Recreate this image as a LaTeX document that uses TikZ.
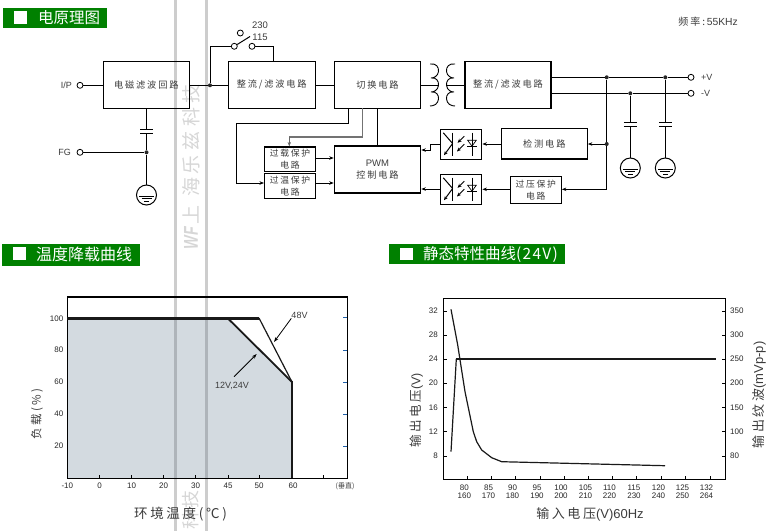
\documentclass[tikz,border=0pt]{standalone}
\usepackage{fontspec}
\usepackage{graphicx}
\usetikzlibrary{arrows.meta}
\setmainfont{Liberation Sans}
\newfontfamily\cjk{Noto Sans CJK SC}
\newfontfamily\cjks[LetterSpace=20]{Noto Sans CJK SC}
\newfontfamily\cjkt[LetterSpace=8]{Noto Sans CJK SC}
\definecolor{hdr}{HTML}{008000}
\definecolor{txt}{HTML}{3C3C3C}
\definecolor{wm}{HTML}{CDCDCD}
\definecolor{wmtx}{HTML}{D6D6D6}
\definecolor{fillp}{HTML}{D3DAE0}
\definecolor{wmdk}{HTML}{AEB4BA}
\definecolor{tickb}{HTML}{1F5FA8}
\tikzset{
  wire/.style={draw=black,line width=1pt},
  tipwire/.style={wire,-{Stealth[length=4.5pt,width=3.5pt]}},
  block/.style={draw=black,line width=1.1pt,minimum height=47pt,inner sep=0pt,text=txt,font=\cjks\fontsize{9.2}{11}\selectfont,align=center},
  smallblock/.style={draw=black,line width=1.1pt,minimum width=51pt,inner sep=0pt,text=txt,font=\cjks\fontsize{8.8}{11.5}\selectfont,align=center},
  optobox/.style={draw=black,line width=1.1pt,minimum width=41pt,minimum height=30.5pt,inner sep=0pt},
  term/.style={circle,draw=black,line width=0.8pt,fill=white,minimum size=6pt,inner sep=0pt},
  dotj/.style={circle,fill=black!85,minimum size=4pt,inner sep=0pt},
  gnd/.style={circle,draw=black,line width=1pt,minimum size=20pt,inner sep=0pt},
  lab/.style={text=txt,font=\fontsize{9}{10}\selectfont,inner sep=0pt},
  hdrbox/.style={fill=hdr,draw=none,minimum height=20pt,inner sep=0pt},
  hdrtx/.style={text=white,anchor=west,inner sep=0pt,font=\cjk},
  tl/.style={text=black!85,font=\fontsize{8}{8}\selectfont,inner sep=0pt},
  axl/.style={text=txt,inner sep=0pt},
  frame/.style={draw=black,line width=1.1pt},
  tk/.style={draw=black,line width=0.8pt},
  wmark/.style={text=wmtx,rotate=90,inner sep=0pt,font=\cjk\fontsize{19}{20}\selectfont}
}
\newcommand{\gndmarks}[1]{
  \draw[line width=1pt] ([xshift=-7.5pt,yshift=-1pt]#1.center)--([xshift=7.5pt,yshift=-1pt]#1.center);
  \draw[line width=1pt] ([xshift=-5pt,yshift=-3.5pt]#1.center)--([xshift=5pt,yshift=-3.5pt]#1.center);
  \draw[line width=1pt] ([xshift=-2.5pt,yshift=-6pt]#1.center)--([xshift=2.5pt,yshift=-6pt]#1.center);
}
\newcommand{\optosym}[1]{
 \begin{scope}[shift={(#1.north west)},line width=1pt]
  \draw (3,4.3)--(12.3,15);
  \draw[-{Stealth[length=4pt,width=3.5pt]}] (12.3,15)--(3.7,26.7);
  \draw (12.3,4)--(12.3,27);
  \draw[-{Stealth[length=4pt,width=3.5pt]}] (24,7.7)--(17.3,14.3);
  \draw[-{Stealth[length=4pt,width=3.5pt]}] (24,15.7)--(16.7,23);
  \draw (31.7,4)--(31.7,27);
  \draw[line width=0.7pt] (27.3,11.7)--(36,11.7)--(31.7,17.7)--cycle;
  \draw (27,17.7)--(37,17.7);
 \end{scope}
}
\newcommand{\capsym}[2]{
  \draw[line width=1.1pt] (#1-6.5,#2)--(#1+6.5,#2);
  \draw[line width=1.1pt] (#1-6.5,#2+4)--(#1+6.5,#2+4);
}
\begin{document}
\begin{tikzpicture}[x=1pt,y=-1pt]
\useasboundingbox (0,0) rectangle (775,531);
% watermark
\fill[wm] (174.3,0) rectangle (177,531);
\fill[wm] (205,0) rectangle (207.7,531);
\foreach \yy/\ch in {94/技,117/科,141/兹,165/乐,187/海,215/上}
  \node[wmark] (w\yy) at (191,\yy) {\ch};
\node[wmark,font=\cjk\fontsize{18}{18}\selectfont] (wb1) at (191,499) {技};
\node[wmark,font=\cjk\fontsize{18}{18}\selectfont] (wb2) at (191,520.5) {科};
\node[wmark,font=\bfseries\itshape\fontsize{20}{20}\selectfont] (wf) at (191,238) {\scalebox{0.72}[1]{WF}};
% headers
\node[hdrbox,minimum width=104pt,anchor=north west] (h1) at (3,8) {};
\fill[white] (14,11) rectangle (27,24);
\node[hdrtx,font=\cjk\fontsize{15.5}{16}\selectfont] (h1t) at (38,18) {电原理图};
\node[hdrbox,minimum width=138pt,minimum height=22pt,anchor=north west] (h2) at (2,244) {};
\fill[white] (12.7,246.7) rectangle (26,260);
\node[hdrtx,font=\cjk\fontsize{16}{16}\selectfont] (h2t) at (36,254.5) {温度降载曲线};
\node[hdrbox,minimum width=176pt,anchor=north west] (h3) at (389,244) {};
\fill[white] (400,247.7) rectangle (413.3,260);
\node[hdrtx,font=\cjk\fontsize{15.5}{16}\selectfont] (h3t) at (423,254.5) {静态特性曲线{\cjkt (24V)}};
\node[lab,anchor=east,font=\fontsize{10.3}{11}\selectfont] (freq) at (738,21.5) {{\cjks\fontsize{10}{11}\selectfont 频率:}\,55KHz};
% blocks
\node[block,minimum width=86.5pt] (emi) at (146.3,84.8) {电磁滤波回路};
\node[block,minimum width=87pt] (rc1) at (271.7,84.8) {整流/滤波电路};
\node[block,minimum width=86.5pt] (sw) at (377.5,84.8) {切换电路};
\node[block,minimum width=86pt] (rc2) at (508,84.8) {整流/滤波电路};
\node[block,minimum width=86.5pt,font=\fontsize{9.5}{12}\selectfont] (pwm) at (377.5,169.5) {PWM\\{\cjks\fontsize{9.2}{11}\selectfont 控制电路}};
\node[smallblock,minimum height=24.5pt] (olp) at (290,159.2) {过载保护\\电路};
\node[smallblock,minimum height=25pt] (otp) at (290,186) {过温保护\\电路};
\node[optobox,anchor=north west] (op1) at (440.3,128.5) {};
\node[optobox,anchor=north west] (op2) at (440.3,173.5) {};
\node[block,minimum width=86pt,minimum height=30.5pt] (det) at (544.3,143.7) {检测电路};
\node[smallblock,minimum height=27pt] (ovp) at (535.8,190) {过压保护\\电路};
\optosym{op1}\optosym{op2}
% input side
\node[term] (ip) at (80,85.3) {};
\node[lab,anchor=east] (iplab) at (72,85.3) {I/P};
\node[term] (fg) at (80,152.3) {};
\node[lab,anchor=east] (fglab) at (71,152.3) {FG};
\node[dotj] (jfg) at (146.5,152.3) {};
\node[gnd] (g1) at (146.5,195) {};
\gndmarks{g1}
\coordinate (emib) at (146.5,108.3);
\coordinate (c1a) at (146.5,129.5);
\coordinate (c1b) at (146.5,133.5);
\draw[wire] (ip) -- (emi.west |- ip);
\draw[wire] (fg) -- (jfg);
\draw[wire] (emib) -- (c1a) (c1b) -- (jfg) -- (g1);
\capsym{146.5}{129.5}
% switch
\node[dotj] (j1) at (210,85.3) {};
\node[term] (s1) at (234.3,46.3) {};
\node[term] (s2) at (252,46.3) {};
\node[term] (s3) at (240.3,33) {};
\node[lab,font=\fontsize{9.5}{10}\selectfont] (l230) at (260,25) {230};
\node[lab,font=\fontsize{9.5}{10}\selectfont] (l115) at (260,37) {115};
\coordinate (swc1) at (210,46.3);
\coordinate (swc2) at (273.3,46.3);
\coordinate (swc3) at (250,36.5);
\draw[wire] (emi.east |- j1) -- (j1) -- (rc1.west |- j1);
\draw[wire] (j1) -- (swc1) -- (s1);
\draw[wire] (s1) -- (swc3);
\draw[wire] (s2) -- (swc2) -- (swc2 |- rc1.north);
\draw[wire] (rc1.east |- j1) -- (sw.west |- j1);
% transformer
\coordinate (tl) at (438.5,85.3);
\coordinate (tr) at (447,85.3);
\draw[wire] (sw.east |- tl) -- (tl);
\draw[wire] (tr) -- (rc2.west |- tr);
\draw[line width=0.9pt] (430,64) .. controls (436,63) and (439,67) .. (438.5,71.5) .. controls (438,76) and (434,78) .. (431,78) .. controls (436,77) and (439,81) .. (438.5,85.3) .. controls (438,90) and (434,92) .. (431,92) .. controls (436,91) and (439,95) .. (438.5,99) .. controls (438,104) and (434,106) .. (430,106);
\draw[line width=0.9pt] (455,64) .. controls (449,63) and (446,67) .. (446.5,71.5) .. controls (447,76) and (451,78) .. (454,78) .. controls (449,77) and (446,81) .. (446.5,85.3) .. controls (447,90) and (451,92) .. (454,92) .. controls (449,91) and (446,95) .. (446.5,99) .. controls (447,104) and (451,106) .. (455,106);
% output side
\node[term] (vp) at (691,77.3) {};
\node[term] (vn) at (691,93.3) {};
\node[lab,anchor=west] (vpl) at (701,77.3) {+V};
\node[lab,anchor=west] (vnl) at (701,93.3) {-V};
\node[dotj] (jp1) at (606.7,77.3) {};
\node[dotj] (jp2) at (665.3,77.3) {};
\node[dotj] (jn1) at (630.3,93.3) {};
\node[dotj] (jd) at (606.7,144) {};
\coordinate (ovc) at (606.7,189.3);
\draw[wire] (rc2.east |- vp) -- (jp1) -- (jp2) -- (vp);
\draw[wire] (rc2.east |- vn) -- (jn1) -- (vn);
\draw[wire] (jp1) -- (jd) -- (ovc);
\draw[tipwire] (ovc) -- (ovp.east |- ovc);
\draw[tipwire] (jd) -- (det.east |- jd);
\draw[tipwire] (det.west |- jd) -- (op1.east |- jd);
\draw[tipwire] (ovp.west |- ovc) -- (op2.east |- ovc);
\node[gnd] (g2) at (630.3,168) {};
\node[gnd] (g3) at (665.3,168) {};
\gndmarks{g2}\gndmarks{g3}
\draw[wire] (jn1) -- (630.3,122.5) (630.3,126.5) -- (g2);
\draw[wire] (jp2) -- (665.3,122.5) (665.3,126.5) -- (g3);
\capsym{630.3}{122.5}\capsym{665.3}{122.5}
% feedback
\coordinate (fa) at (348.7,123.3);
\coordinate (fb) at (236.3,123.3);
\coordinate (fc) at (236.3,183);
\draw[wire] (348.7,108.3) -- (fa) -- (fb) -- (fc);
\draw[tipwire] (fc) -- (otp.west |- fc);
\coordinate (ga) at (362.3,136.7);
\coordinate (gb) at (289.3,136.7);
\draw[draw=black!55,line width=1.6pt] (362.3,108.3) -- (ga) -- (gb);
\draw[draw=black!60,line width=1pt,-{Stealth[length=4.5pt,width=3.5pt]}] (gb) -- (gb |- olp.north);
\draw[wire] (377.7,108.3) -- (pwm.north -| 377.7,0);
\coordinate (oa) at (315.5,158);
\coordinate (ob) at (315.5,183);
\draw[tipwire] (oa) -- (pwm.west |- oa);
\draw[tipwire] (ob) -- (pwm.west |- ob);
\coordinate (p1) at (430.7,144.3);
\coordinate (p2) at (430.7,150);
\draw[wire] (op1.west |- p1) -- (p1) -- (p2);
\draw[tipwire] (p2) -- (pwm.east |- p2);
\coordinate (p3) at (440.3,189);
\draw[tipwire] (p3) -- (pwm.east |- p3);
% ---------- plot 1
\fill[fillp] (67.3,317.7) -- (228,318) -- (292,382) -- (292,478.3) -- (67.3,478.3) -- cycle;
\fill[wmdk] (174.3,317) rectangle (177,478.3);
\fill[wmdk] (205,317) rectangle (207.7,478.3);
\draw[frame] (67.3,297) rectangle (347.3,478.3);
\foreach \xx in {99.5,131.5,163.5,195.5,228,259,292,323}
  \draw[tk] (\xx,478.3) -- (\xx,474.5);
\foreach \yy in {317.7,350,382,414,446}
  {\draw[draw=tickb,line width=0.8pt] (343,\yy) -- (347.3,\yy);}
\foreach \xx/\t in {67.3/-10,99.5/0,131.5/10,163.5/20,195.5/30,228/45,259/50,293/60}
  \node[tl] (xl\t) at (\xx,486) {\t};
\foreach \yy/\t in {318.5/100,350/80,382/60,414/40,446/20}
  \node[tl,anchor=east] (yl\t) at (63.5,\yy) {\t};
\node[text=txt,inner sep=0pt,font=\cjk\fontsize{7}{7}\selectfont] (vert) at (345,486) {(垂直)};
\draw[line width=3pt,black!90] (67.3,318) -- (259,318);
\draw[line width=1.8pt,black!90] (228,318.5) -- (292,382);
\draw[line width=1.2pt,black!90] (259,318) -- (292,382);
\draw[line width=2.4pt,black!90] (292,381) -- (292,478.3);
\node[lab] (l48) at (299.5,315) {48V};
\node[lab] (l12) at (232,386) {12V,24V};
\draw[line width=0.8pt,-{Stealth[length=5pt,width=3.5pt]}] (l48.south west) -- (274,342);
\draw[line width=0.8pt,-{Stealth[length=5pt,width=3.5pt]}] (234,376.7) -- (256.7,354);
\node[axl,rotate=90,font=\cjks\fontsize{11.5}{12}\selectfont] (py) at (37,414) {负载(\%)};
\node[axl,font=\cjks\fontsize{13.5}{14}\selectfont] (px) at (180.5,514) {环境温度(℃)};
% ---------- plot 2
\draw[frame] (443.3,298.3) rectangle (725.3,479.3);
\foreach \xx in {467.7,491.7,515.7,540,564.3,588.3,612.3,636.7,661,685.7,710}
  \draw[tk] (\xx,479.3) -- (\xx,475.5);
\foreach \yy/\a/\b in {311/32/350,335/28/300,359/24/250,383/20/200,407.5/16/150,431.5/12/100,456/8/80}{
  \draw[tk] (443.3,\yy) -- (447,\yy);
  \draw[tk] (725.3,\yy) -- (721.5,\yy);
  \node[tl,anchor=east] (la\a) at (438,\yy) {\a};
  \node[tl,anchor=west] (ra\b) at (730,\yy) {\b};
}
\foreach \xx/\a/\b in {464.3/80/160,488.5/85/170,512.5/90/180,537/95/190,561/100/200,585.5/105/210,609.5/110/220,634/115/230,658.5/120/240,682.5/125/250,706.5/132/264}{
  \node[tl,align=center,font=\fontsize{8}{7.8}\selectfont] (bx\a) at (\xx,492) {\a\\\b};
}
\draw[line width=1.2pt,black!90] (451,309.3) -- (457.7,345) -- (465,391.7) -- (473.3,431.7) -- (476.7,441.7) -- (481.7,450) -- (491.7,457.7) -- (501.7,461.7) -- (665,465.7);
\draw[line width=1.2pt,black!90] (451,451.7) -- (456.3,359);
\draw[line width=2.2pt,black!90] (456.3,359) -- (715.7,359);
\node[axl,rotate=90,font=\fontsize{12.5}{13}\selectfont] (qy) at (416.5,410) {{\cjks 输出电压}(V)};
\node[axl,rotate=90,font=\fontsize{13}{14}\selectfont] (qr) at (759,395) {{\cjks 输出纹波}(mVp-p)};
\node[axl,font=\fontsize{13}{14}\selectfont] (qx) at (590,514) {{\cjks 输入电压}(V)60Hz};
\end{tikzpicture}
\end{document}
